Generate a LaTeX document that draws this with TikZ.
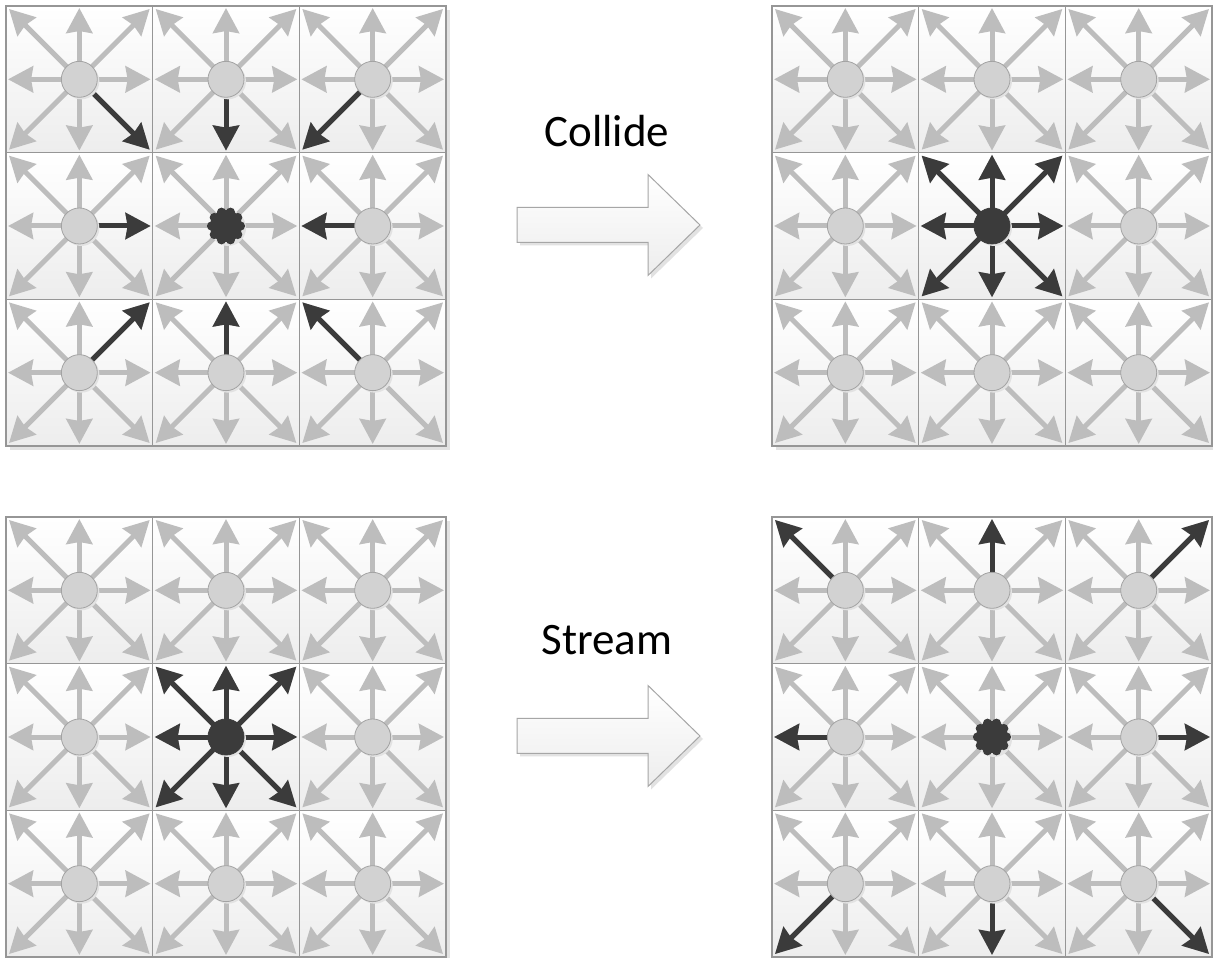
\documentclass[tikz,border=0pt]{standalone}
\usepackage{fontspec}
\setmainfont{Carlito}
\usetikzlibrary{arrows.meta}

\definecolor{cellline}{HTML}{969696}
\definecolor{cellbot}{HTML}{EDEDED}
\definecolor{popgray}{HTML}{BDBDBD}
\definecolor{popdark}{HTML}{3B3B3B}
\definecolor{sitefill}{HTML}{D2D2D2}
\definecolor{sitering}{HTML}{A3A3A3}
\definecolor{softshadow}{HTML}{E2E2E2}
\definecolor{blockline}{HTML}{A6A6A6}

\def\cs{146.67}   % cell size
\def\ax{71.3}     % axis arrow length
\def\dg{99.5}     % diagonal arrow length

\tikzset{
  cell/.style={draw=cellline, line width=1.2pt, top color=white, bottom color=cellbot},
  pop/.style={draw=popgray, line width=5pt, -{Stealth[length=25pt,width=26pt,inset=2pt]}},
  hot/.style={pop, draw=popdark},
  site/.style={circle, draw=sitering, fill=sitefill, line width=0.8pt, minimum size=36pt, inner sep=0pt},
  hotsite/.style={site, draw=popdark, fill=popdark},
  block/.style={draw=blockline, line width=1pt, top color=white, bottom color=cellbot},
  phase/.style={font=\fontsize{45}{54}\selectfont, anchor=base},
}

% 3x3 lattice with all eight populations: name, left, top
\newcommand\lattice[3]{
  \fill[softshadow] (#2+4,#3-4) rectangle ++(3*\cs,-3*\cs);
  \foreach \r in {0,1,2}
    \foreach \c in {0,1,2} {
      \draw[cell] (#2+\c*\cs,#3-\r*\cs) rectangle ++(\cs,-\cs);
      \coordinate (#1-\r-\c) at (#2+\c*\cs+0.5*\cs,#3-\r*\cs-0.5*\cs);
    }
  \foreach \r in {0,1,2}
    \foreach \c in {0,1,2} {
      \foreach \a in {0,90,180,270} \draw[pop] (#1-\r-\c) -- ++(\a:\ax);
      \foreach \a in {45,135,225,315} \draw[pop] (#1-\r-\c) -- ++(\a:\dg);
    }
}

% one site with its shadow
\newcommand\site[2]{
  \fill[softshadow] ([shift={(2,-2)}]#1) circle (18);
  \node[#2] (#1-site) at (#1) {};
}

% the eight outer sites of a lattice
\newcommand\sites[1]{
  \foreach \p in {0-0,0-1,0-2,1-0,1-2,2-0,2-1,2-2} {\site{#1-\p}{site}}
}

% bumpy centre (particles gathered)
\newcommand\blob[1]{
  \fill[softshadow] ([shift={(2,-2)}]#1) circle (18);
  \fill[popdark] (#1) circle (16);
  \foreach \b in {0,36,...,324} \fill[popdark] (#1) ++(\b:14.5) circle (4.6);
}

% block arrow to the right, tip at height #1
\newcommand\blockarrow[1]{
  \fill[softshadow] (520,#1+14.5) -- (651,#1+14.5) -- (651,#1+47.5) -- (703,#1-3)
    -- (651,#1-53.5) -- (651,#1-20.5) -- (520,#1-20.5) -- cycle;
  \draw[block] (517,#1+17.5) -- (648,#1+17.5) -- (648,#1+50.5) -- (700,#1)
    -- (648,#1-50.5) -- (648,#1-17.5) -- (517,#1-17.5) -- cycle;
}

\begin{document}
\begin{tikzpicture}[x=1pt,y=1pt]
  \useasboundingbox (0,0) rectangle (1213,958);
  \fill[white] (0,0) rectangle (1213,958);

  \lattice{cb}{6}{952}
  \lattice{ca}{772}{952}
  \lattice{sb}{6}{441}
  \lattice{sa}{772}{441}

  % before collision: neighbours point into the centre
  \draw[hot] (cb-0-0) -- ++(315:\dg);
  \draw[hot] (cb-0-1) -- ++(270:\ax);
  \draw[hot] (cb-0-2) -- ++(225:\dg);
  \draw[hot] (cb-1-0) -- ++(0:\ax);
  \draw[hot] (cb-1-2) -- ++(180:\ax);
  \draw[hot] (cb-2-0) -- ++(45:\dg);
  \draw[hot] (cb-2-1) -- ++(90:\ax);
  \draw[hot] (cb-2-2) -- ++(135:\dg);

  % centre after collision, before streaming
  \foreach \n in {ca,sb} {
    \foreach \a in {0,90,180,270} \draw[hot] (\n-1-1) -- ++(\a:\ax);
    \foreach \a in {45,135,225,315} \draw[hot] (\n-1-1) -- ++(\a:\dg);
  }

  % after streaming: neighbours carry them outwards
  \draw[hot] (sa-0-0) -- ++(135:\dg);
  \draw[hot] (sa-0-1) -- ++(90:\ax);
  \draw[hot] (sa-0-2) -- ++(45:\dg);
  \draw[hot] (sa-1-0) -- ++(180:\ax);
  \draw[hot] (sa-1-2) -- ++(0:\ax);
  \draw[hot] (sa-2-0) -- ++(225:\dg);
  \draw[hot] (sa-2-1) -- ++(270:\ax);
  \draw[hot] (sa-2-2) -- ++(315:\dg);

  \sites{cb}
  \sites{ca}
  \sites{sb}
  \sites{sa}
  \blob{cb-1-1}
  \site{ca-1-1}{hotsite}
  \site{sb-1-1}{hotsite}
  \blob{sa-1-1}

  \blockarrow{733}
  \blockarrow{222}
  \node[phase] (collide) at (607,811) {Collide};
  \node[phase] (stream) at (607,303) {Stream};
\end{tikzpicture}
\end{document}
